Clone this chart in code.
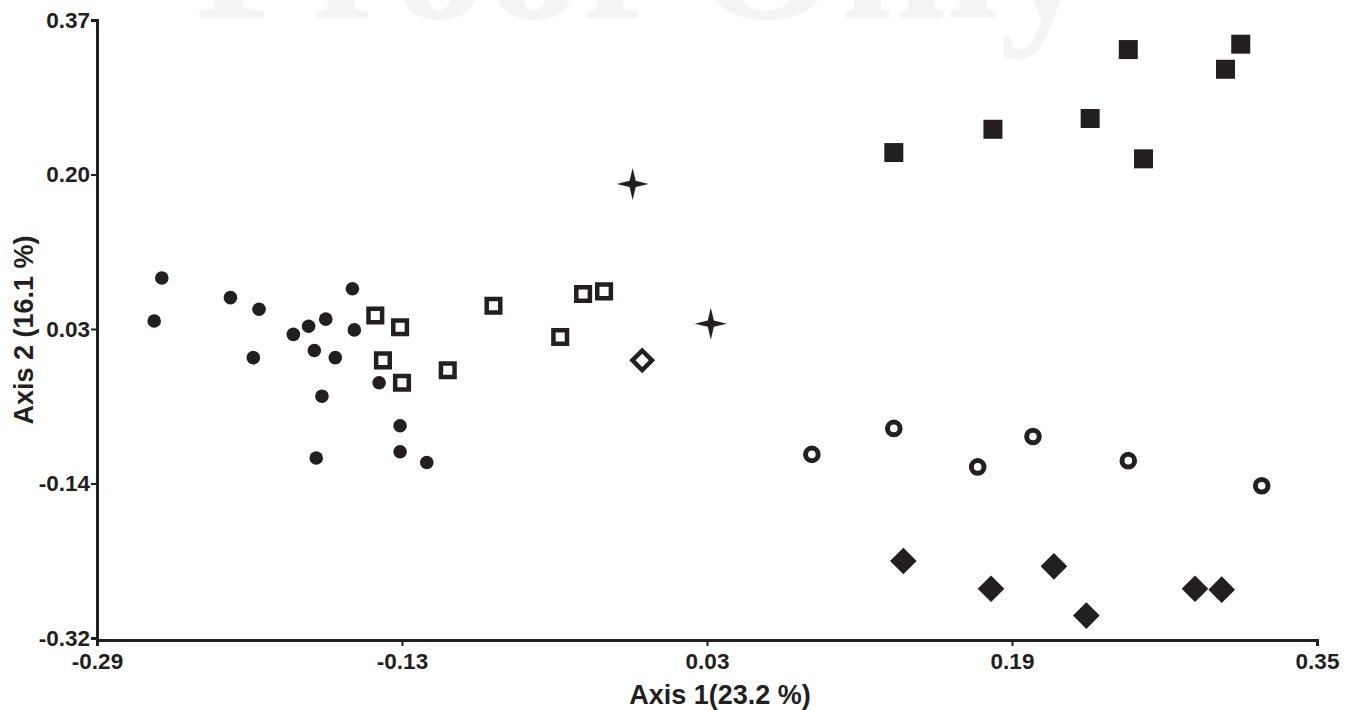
<!DOCTYPE html>
<html>
<head>
<meta charset="utf-8">
<script src="https://cdn.jsdelivr.net/npm/d3@7"></script>
<style>
  body { margin: 0; background: #fff; }
  svg { display: block; }
</style>
</head>
<body>
<div id="chart"></div>
<script>
// Ordination scores: [axis 1, axis 2]
const filledCircles = [
  [-0.256, 0.082], [-0.260, 0.034], [-0.220, 0.060], [-0.205, 0.047],
  [-0.208, -0.007], [-0.187, 0.019], [-0.179, 0.028], [-0.170, 0.036],
  [-0.156, 0.070], [-0.155, 0.024], [-0.176, 0.001], [-0.165, -0.007],
  [-0.172, -0.050], [-0.142, -0.035], [-0.131, -0.083], [-0.131, -0.112],
  [-0.175, -0.119], [-0.117, -0.124]
];
const openSquares = [
  [-0.144, 0.040], [-0.131, 0.027], [-0.140, -0.010], [-0.130, -0.035],
  [-0.106, -0.021], [-0.082, 0.051], [-0.047, 0.016], [-0.035, 0.064],
  [-0.024, 0.067]
];
const stars = [[-0.009, 0.187], [0.032, 0.031]];
const openDiamonds = [[-0.004, -0.010]];
const filledSquares = [
  [0.128, 0.222], [0.180, 0.248], [0.231, 0.260], [0.251, 0.337],
  [0.259, 0.215], [0.310, 0.343], [0.302, 0.315]
];
const openCircles = [
  [0.085, -0.115], [0.128, -0.086], [0.172, -0.129], [0.201, -0.095],
  [0.251, -0.122], [0.321, -0.150]
];
const filledDiamonds = [
  [0.133, -0.234], [0.179, -0.265], [0.212, -0.240], [0.229, -0.295],
  [0.286, -0.265], [0.300, -0.266]
];

const xTicks = [-0.29, -0.13, 0.03, 0.19, 0.35];
const xTickLabels = ["-0.29", "-0.13", "0.03", "0.19", "0.35"];
const yTicks = [-0.32, -0.1475, 0.025, 0.1975, 0.37];
const yTickLabels = ["-0.32", "-0.14", "0.03", "0.20", "0.37"];

const ink = "#231f20";
const width = 1357;
const height = 710;
const margin = { top: 20, right: 40, bottom: 70, left: 97 };

const svg = d3
  .select("#chart")
  .append("svg")
  .attr("width", width)
  .attr("height", height);

// faint watermark at the top edge
svg
  .append("text")
  .attr("x", 195)
  .attr("y", 18)
  .attr("font-family", "Liberation Serif, serif")
  .attr("font-weight", "bold")
  .attr("font-size", "190px")
  .attr("fill", "#f4f4f4")
  .text("Proof Only");

const x = d3
  .scaleLinear()
  .domain([-0.29, 0.35])
  .range([margin.left, width - margin.right]);

const y = d3
  .scaleLinear()
  .domain([-0.32, 0.37])
  .range([638, margin.top]);

// 4-point star symbol
const star4 = {
  draw(context, size) {
    const R = Math.sqrt(size);
    const r = R * 0.27;
    for (let i = 0; i < 8; i++) {
      const a = (i * Math.PI) / 4 - Math.PI / 2;
      const rad = i % 2 === 0 ? R : r;
      const px = rad * Math.cos(a);
      const py = rad * Math.sin(a);
      if (i === 0) context.moveTo(px, py);
      else context.lineTo(px, py);
    }
    context.closePath();
  }
};

const groups = [
  { data: filledCircles, type: d3.symbolCircle, size: 145, fill: ink, stroke: "none", sw: 0, rot: 0 },
  { data: openSquares, type: d3.symbolSquare, size: 185, fill: "#fff", stroke: ink, sw: 4.5, rot: 0 },
  { data: stars, type: star4, size: 256, fill: ink, stroke: "none", sw: 0, rot: 0 },
  { data: openDiamonds, type: d3.symbolSquare, size: 190, fill: "#fff", stroke: ink, sw: 4.5, rot: 45 },
  { data: filledSquares, type: d3.symbolSquare, size: 361, fill: ink, stroke: "none", sw: 0, rot: 0 },
  { data: openCircles, type: d3.symbolCircle, size: 125, fill: "#fff", stroke: ink, sw: 5, rot: 0 },
  { data: filledDiamonds, type: d3.symbolSquare, size: 356, fill: ink, stroke: "none", sw: 0, rot: 45 }
];

groups.forEach((g) => {
  svg
    .append("g")
    .selectAll("path")
    .data(g.data)
    .enter()
    .append("path")
    .attr("d", d3.symbol().type(g.type).size(g.size))
    .attr("transform", (d) => `translate(${x(d[0])},${y(d[1])}) rotate(${g.rot})`)
    .attr("fill", g.fill)
    .attr("stroke", g.stroke)
    .attr("stroke-width", g.sw);
});

// X Axis
const xAxis = svg
  .append("g")
  .attr("transform", `translate(0,640)`)
  .call(
    d3
      .axisBottom(x)
      .tickValues(xTicks)
      .tickFormat((d, i) => xTickLabels[i])
      .tickSizeOuter(0)
      .tickSize(6)
      .tickPadding(7)
  );

// Y Axis
const yAxis = svg
  .append("g")
  .attr("transform", `translate(${margin.left},0)`)
  .call(
    d3
      .axisLeft(y)
      .tickValues(yTicks)
      .tickFormat((d, i) => yTickLabels[i])
      .tickSizeOuter(0)
      .tickSize(6)
      .tickPadding(1)
  );

[xAxis, yAxis].forEach((a) => {
  a.select(".domain").attr("stroke", ink).attr("stroke-width", 3);
  a.selectAll(".tick line").attr("stroke", ink).attr("stroke-width", 2);
  a.selectAll(".tick text")
    .attr("fill", ink)
    .attr("font-family", "Liberation Sans, Arial, sans-serif")
    .attr("font-weight", "bold")
    .attr("font-size", "22.5px");
});

// Axis titles
svg
  .append("text")
  .attr("x", (margin.left + width - margin.right) / 2 + 13)
  .attr("y", 704)
  .attr("text-anchor", "middle")
  .attr("fill", ink)
  .attr("font-family", "Liberation Sans, Arial, sans-serif")
  .attr("font-weight", "bold")
  .attr("font-size", "27px")
  .text("Axis 1(23.2 %)");

svg
  .append("text")
  .attr("transform", `translate(33,330) rotate(-90)`)
  .attr("text-anchor", "middle")
  .attr("fill", ink)
  .attr("font-family", "Liberation Sans, Arial, sans-serif")
  .attr("font-weight", "bold")
  .attr("font-size", "27px")
  .text("Axis 2 (16.1 %)");
</script>
</body>
</html>
